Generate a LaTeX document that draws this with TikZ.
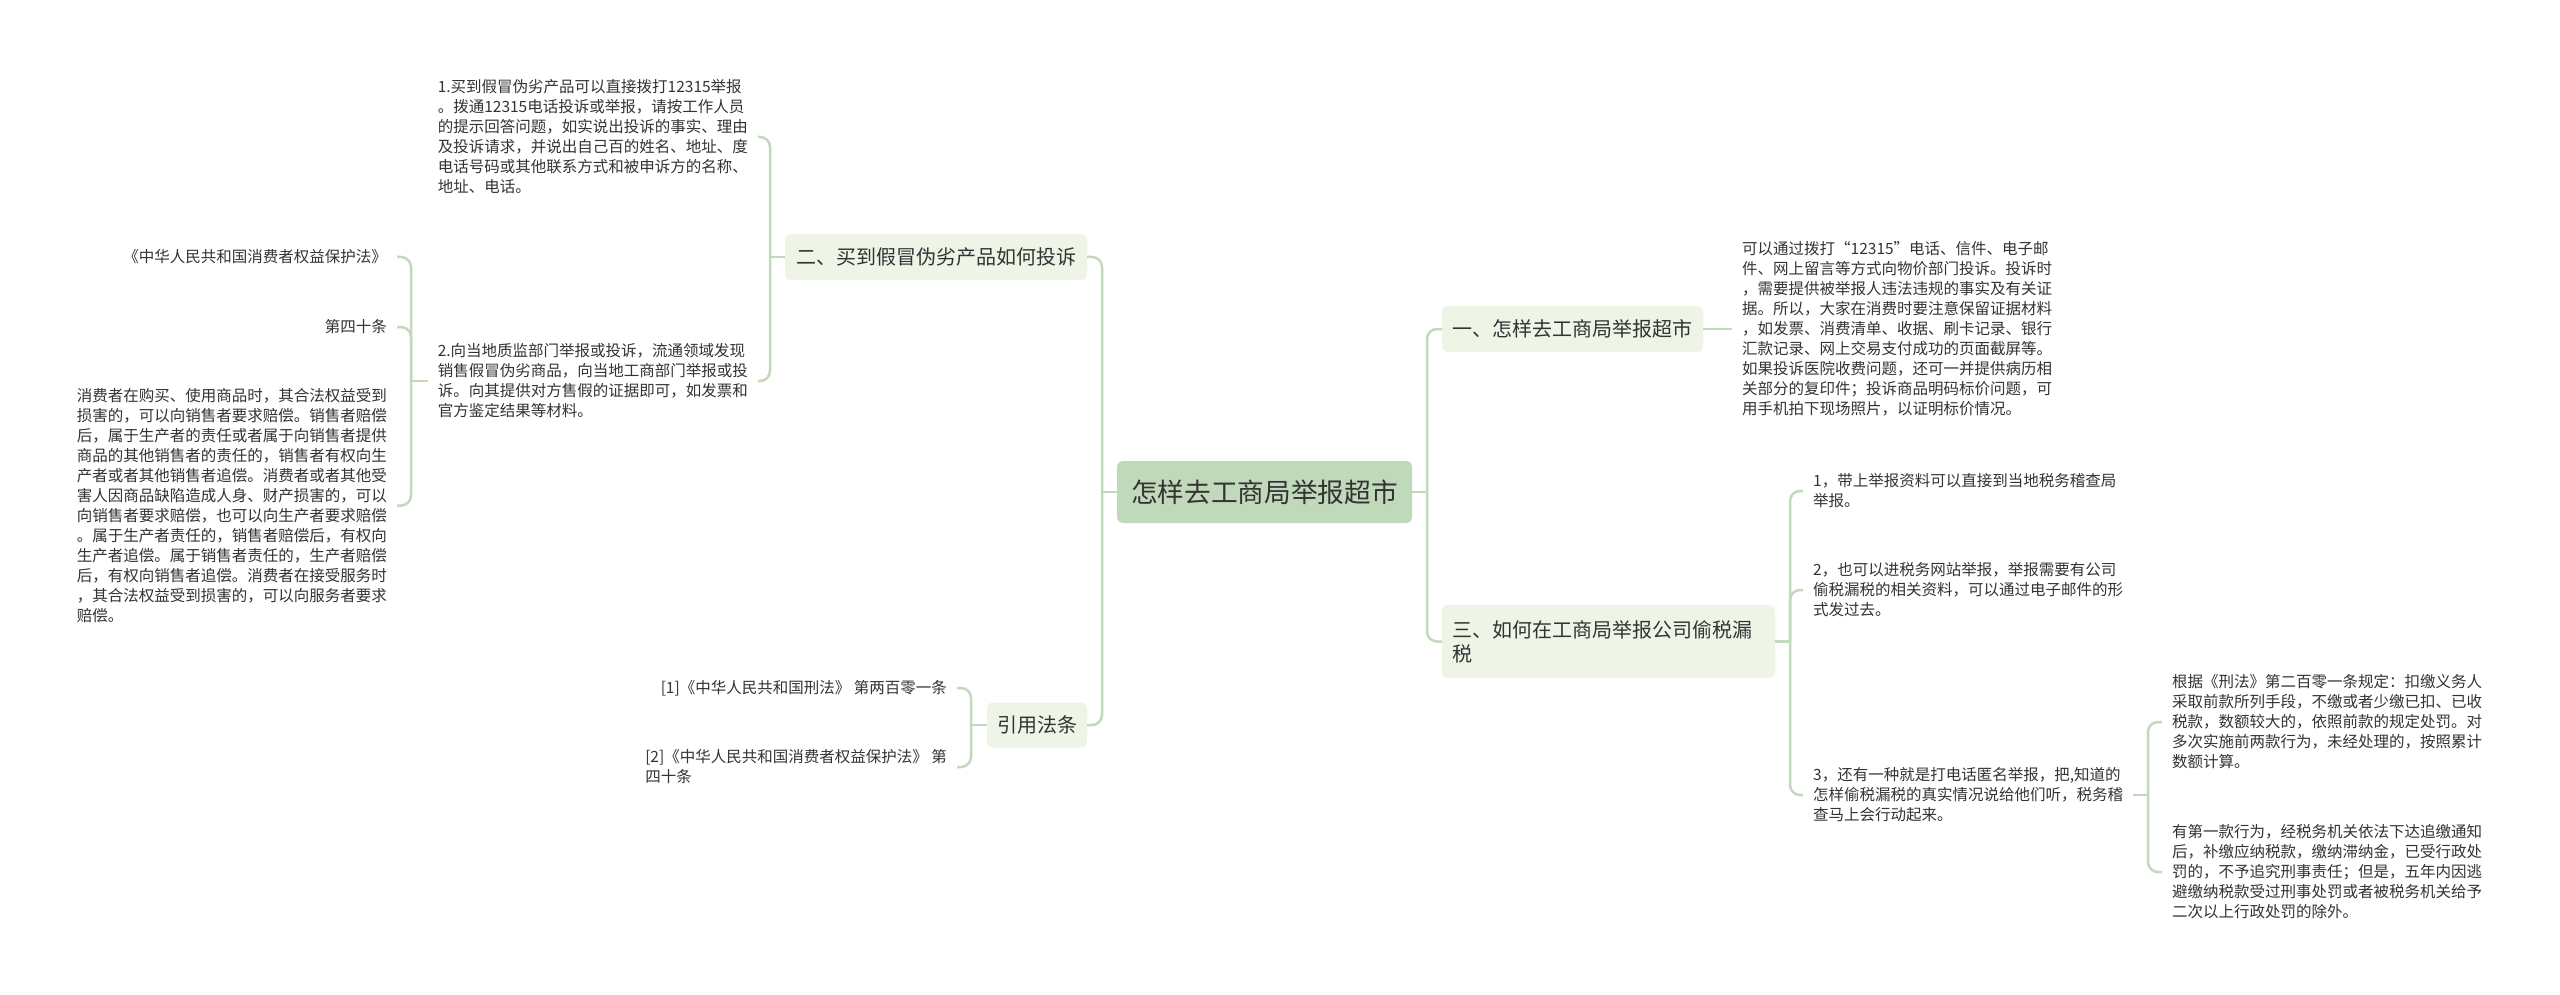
\documentclass[tikz,border=0pt]{standalone}
\usepackage{fontspec}
\setmainfont{Noto Sans CJK SC}
\definecolor{lineg}{HTML}{C2D9BC}
\definecolor{rootg}{HTML}{C1D9BB}
\definecolor{subg}{HTML}{EEF5E7}
\definecolor{txt}{HTML}{333333}
\tikzset{
  conn/.style={draw=lineg, line width=2.5pt, rounded corners=10pt},
  rootbox/.style={fill=rootg, rounded corners=6pt, minimum width=295pt, minimum height=62pt, inner sep=0pt, text=txt, font=\fontsize{26.7}{30}\selectfont},
  subbox/.style={fill=subg, rounded corners=6pt, inner xsep=10pt, inner ysep=0pt, minimum height=46pt, text=txt, font=\fontsize{20}{24}\selectfont},
  leaf/.style={text=txt, align=left, inner xsep=10pt, inner ysep=2pt, font=\fontsize{15.5}{20}\selectfont},
}
\begin{document}
\begin{tikzpicture}[x=1pt,y=-1pt]
\useasboundingbox[fill=white] (0,0) rectangle (2560,995);

% root
\node[rootbox] (C) at (1264.5,492) {怎样去工商局举报超市};

% level 1
\node[subbox, minimum width=261pt] (N1) at (1572.5,329) {一、怎样去工商局举报超市};
\node[subbox, minimum width=302pt] (N2) at (936,257) {二、买到假冒伪劣产品如何投诉};
\node[subbox, text width=313pt, align=left, minimum height=73pt] (N3) at (1608.5,641.5) {三、如何在工商局举报公司偷税漏\\税};
\node[subbox, minimum width=100pt, minimum height=45pt] (R) at (1037,725) {引用法条};

% right leaves
\node[leaf, anchor=west] (T1) at (1732,329) {可以通过拨打“12315”电话、信件、电子邮\\件、网上留言等方式向物价部门投诉。投诉时\\，需要提供被举报人违法违规的事实及有关证\\据。所以，大家在消费时要注意保留证据材料\\，如发票、消费清单、收据、刷卡记录、银行\\汇款记录、网上交易支付成功的页面截屏等。\\如果投诉医院收费问题，还可一并提供病历相\\关部分的复印件；投诉商品明码标价问题，可\\用手机拍下现场照片，以证明标价情况。};

\node[leaf, anchor=west] (A1) at (1803,491) {1，带上举报资料可以直接到当地税务稽查局\\举报。};
\node[leaf, anchor=west] (A2) at (1803,590) {2，也可以进税务网站举报，举报需要有公司\\偷税漏税的相关资料，可以通过电子邮件的形\\式发过去。};
\node[leaf, anchor=west] (A3) at (1803,795) {3，还有一种就是打电话匿名举报，把,知道的\\怎样偷税漏税的真实情况说给他们听，税务稽\\查马上会行动起来。};

\node[leaf, anchor=west] (B1) at (2162,722) {根据《刑法》第二百零一条规定：扣缴义务人\\采取前款所列手段，不缴或者少缴已扣、已收\\税款，数额较大的，依照前款的规定处罚。对\\多次实施前两款行为，未经处理的，按照累计\\数额计算。};
\node[leaf, anchor=west] (B2) at (2162,872) {有第一款行为，经税务机关依法下达追缴通知\\后，补缴应纳税款，缴纳滞纳金，已受行政处\\罚的，不予追究刑事责任；但是，五年内因逃\\避缴纳税款受过刑事处罚或者被税务机关给予\\二次以上行政处罚的除外。};

% left leaves
\node[leaf, anchor=east] (L1) at (758,137) {1.买到假冒伪劣产品可以直接拨打12315举报\\。拨通12315电话投诉或举报，请按工作人员\\的提示回答问题，如实说出投诉的事实、理由\\及投诉请求，并说出自己百的姓名、地址、度\\电话号码或其他联系方式和被申诉方的名称、\\地址、电话。};
\node[leaf, anchor=east] (L2) at (758,381) {2.向当地质监部门举报或投诉，流通领域发现\\销售假冒伪劣商品，向当地工商部门举报或投\\诉。向其提供对方售假的证据即可，如发票和\\官方鉴定结果等材料。};

\node[leaf, anchor=east] (K1) at (397,257) {《中华人民共和国消费者权益保护法》};
\node[leaf, anchor=east] (K2) at (397,327) {第四十条};
\node[leaf, anchor=east] (K3) at (397,505.5) {消费者在购买、使用商品时，其合法权益受到\\损害的，可以向销售者要求赔偿。销售者赔偿\\后，属于生产者的责任或者属于向销售者提供\\商品的其他销售者的责任的，销售者有权向生\\产者或者其他销售者追偿。消费者或者其他受\\害人因商品缺陷造成人身、财产损害的，可以\\向销售者要求赔偿，也可以向生产者要求赔偿\\。属于生产者责任的，销售者赔偿后，有权向\\生产者追偿。属于销售者责任的，生产者赔偿\\后，有权向销售者追偿。消费者在接受服务时\\，其合法权益受到损害的，可以向服务者要求\\赔偿。};

\node[leaf, anchor=east] (Q1) at (957,688) {[1]《中华人民共和国刑法》 第两百零一条};
\node[leaf, anchor=east] (Q2) at (957,767) {[2]《中华人民共和国消费者权益保护法》 第\\四十条};

% junctions
\coordinate (JL) at (1102,492);
\coordinate (JR) at (1427,492);
\coordinate (J2) at (770,257);
\coordinate (J3) at (1790,641.5);
\coordinate (J4) at (2148,795);
\coordinate (J5) at (411,381);
\coordinate (J6) at (971,725);

% connectors
\draw[conn] (C.west) -- (JL);
\draw[conn] (JL) |- (N2.east);
\draw[conn] (JL) |- (R.east);
\draw[conn] (C.east) -- (JR);
\draw[conn] (JR) |- (N1.west);
\draw[conn] (JR) |- (N3.west);

\draw[conn] (N1.east) -- (T1.west);

\draw[conn] (N3.east) -- (J3);
\draw[conn] (J3) |- (A1.west);
\draw[conn] (J3) |- (A2.west);
\draw[conn] (J3) |- (A3.west);

\draw[conn] (A3.east) -- (J4);
\draw[conn] (J4) |- (B1.west);
\draw[conn] (J4) |- (B2.west);

\draw[conn] (N2.west) -- (J2);
\draw[conn] (J2) |- (L1.east);
\draw[conn] (J2) |- (L2.east);

\draw[conn] (L2.west) -- (J5);
\draw[conn] (J5) |- (K1.east);
\draw[conn] (J5) |- (K2.east);
\draw[conn] (J5) |- (K3.east);

\draw[conn] (R.west) -- (J6);
\draw[conn] (J6) |- (Q1.east);
\draw[conn] (J6) |- (Q2.east);
\end{tikzpicture}
\end{document}
